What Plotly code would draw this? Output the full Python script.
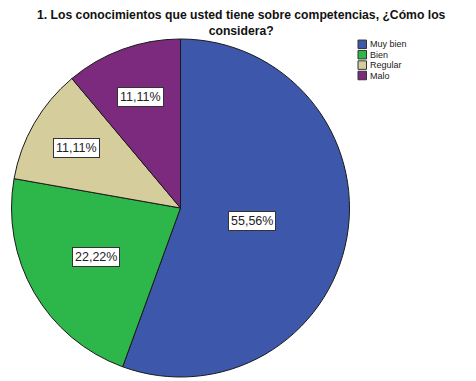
import math
import plotly.graph_objects as go

categories = ["Muy bien", "Bien", "Regular", "Malo"]
values = [55.56, 22.22, 11.11, 11.11]
value_labels = ["55,56%", "22,22%", "11,11%", "11,11%"]
colors = ["#3D58AB", "#2DB74A", "#D6CD9C", "#7C2A7D"]
title_lines = ["1. Los conocimientos que usted tiene sobre competencias, ¿Cómo los", "considera?"]

label_radius = [0.43, 0.58, 0.71, 0.70]
W, H = 476, 381
cx, cy, r = 180.5, 208, 169
FONT = "Liberation Sans, Arial, sans-serif"

fig = go.Figure(go.Pie(
    labels=categories,
    values=values,
    sort=False,
    direction="clockwise",
    rotation=0,
    marker=dict(colors=colors, line=dict(color="#1a1a1a", width=1)),
    textinfo="none",
    hoverinfo="label+percent",
    showlegend=False,
    domain=dict(x=[(cx - r) / W, (cx + r) / W], y=[1 - (cy + r) / H, 1 - (cy - r) / H]),
))

total = sum(values)
acc = 0.0
for v, lab, f in zip(values, value_labels, label_radius):
    mid = (acc + v / 2) / total * 2 * math.pi
    acc += v
    px = cx + r * f * math.sin(mid)
    py = cy - r * f * math.cos(mid)
    fig.add_annotation(
        x=px / W, y=1 - py / H, xref="paper", yref="paper",
        xanchor="center", yanchor="middle",
        text=lab, showarrow=False,
        font=dict(family=FONT, size=12.5, color="#222"),
        bgcolor="white", bordercolor="#333", borderwidth=1, borderpad=2,
    )

# title
fig.add_annotation(
    x=241 / W, y=1 - 23.5 / H, xref="paper", yref="paper",
    text="<b>" + "<br>".join(title_lines) + "</b>", showarrow=False,
    xanchor="center", yanchor="middle", align="center",
    font=dict(family=FONT, size=12.2, color="#111"),
)

# legend
lx, ly0, dy, sq = 358, 44.3, 10.4, 8.5
for i, (c, col) in enumerate(zip(categories, colors)):
    yc = ly0 + i * dy
    fig.add_shape(
        type="rect", xref="paper", yref="paper",
        x0=lx / W, x1=(lx + sq) / W, y0=1 - (yc - sq / 2) / H, y1=1 - (yc + sq / 2) / H,
        fillcolor=col, line=dict(color="#333", width=1),
    )
    fig.add_annotation(
        x=(lx + sq + 1.5) / W, y=1 - yc / H, xref="paper", yref="paper",
        text=c, showarrow=False, xanchor="left", yanchor="middle",
        font=dict(family=FONT, size=9, color="#222"),
    )

fig.update_layout(
    width=W, height=H,
    margin=dict(l=0, r=0, t=0, b=0),
    paper_bgcolor="white", plot_bgcolor="white",
    showlegend=False,
)

fig.write_html("out.html", config={"displayModeBar": False},
               post_script="document.body.style.margin='0';")
